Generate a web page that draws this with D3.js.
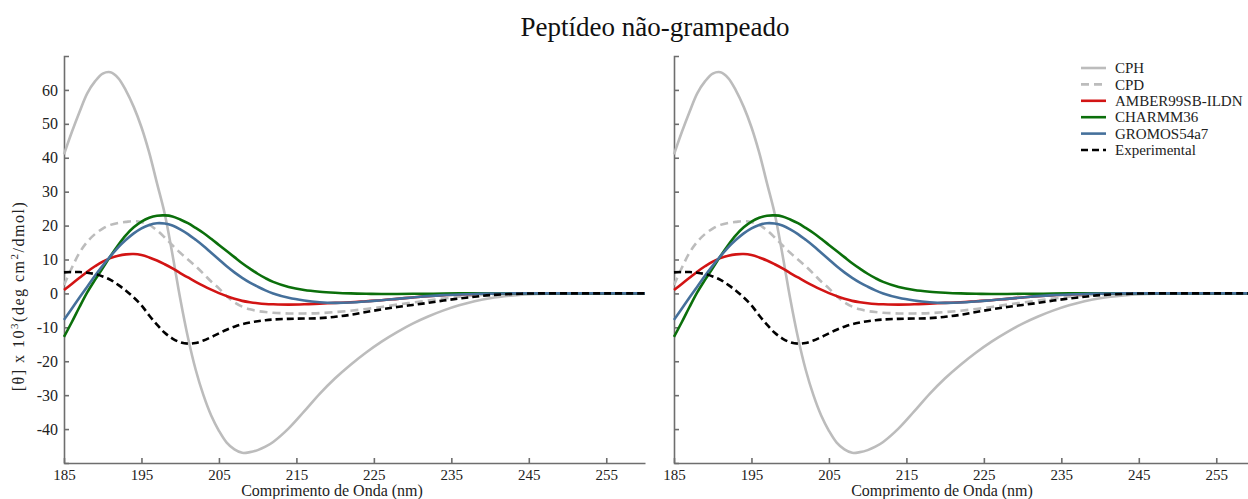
<!DOCTYPE html>
<html>
<head>
<meta charset="utf-8">
<script src="https://cdn.jsdelivr.net/npm/d3@7/dist/d3.min.js"></script>
<style>
  body { margin: 0; background: #fff; }
  svg { font-family: "Liberation Serif", "Times New Roman", serif; }
  .axis path, .axis line { stroke: #6e6e6e; stroke-width: 1.6; }
  .axis text { fill: #222; font-family: "Liberation Serif", "Times New Roman", serif; }
</style>
</head>
<body>
<div class="chart"></div>
<script>
// wavelength grid (nm)
var wavelengths = [185,186,187,188,189,190,191,192,193,194,195,196,197,198,199,200,201,202,203,204,205,206,207,208,209,210,211,212,
  214,216,218,220,222,224,226,228,230,232,234,236,238,240,243,246,250,255,260];

var cph = [41,47.5,53.5,59,62.5,64.8,65.2,63.5,59.8,55,49,41.5,32.5,23.5,11.5,-1.5,-13,-22.5,-30,-36,-40.5,-44,-46,-47,-46.8,-46.2,-45.2,-43.8,
  -39.8,-34.8,-29.6,-25,-21,-17.4,-14.2,-11.4,-8.9,-6.8,-5,-3.5,-2.3,-1.4,-0.6,-0.15,0,0,0];
var cpd = [2.5,7.5,12,15.2,17.5,19.1,20.2,20.8,21.1,21.3,21,20.2,18.6,16.5,14.2,12,10,8,5.8,3.5,1.5,-0.8,-2.6,-3.9,-4.7,-5.2,-5.5,-5.7,
  -5.9,-5.9,-5.8,-5.5,-5.1,-4.6,-4,-3.3,-2.7,-2.1,-1.5,-1,-0.6,-0.3,-0.1,0,0,0,0];
var amber = [1,2.8,4.6,6.4,8,9.4,10.4,11.1,11.5,11.6,11.3,10.6,9.7,8.6,7.4,6,4.7,3.4,2.2,1.1,0.1,-0.8,-1.6,-2.2,-2.6,-2.9,-3.1,-3.2,
  -3.3,-3.2,-3,-2.8,-2.6,-2.3,-2,-1.6,-1.2,-0.8,-0.5,-0.3,-0.15,-0.05,0,0,0,0,0];
var charmm = [-12.8,-8.5,-4,0.3,4,7.5,11,14.3,17.2,19.5,21.2,22.3,22.9,23,22.7,21.8,20.7,19.3,17.8,16.1,14.3,12.5,10.7,8.9,7.3,5.8,4.5,3.4,
  1.9,1,0.5,0.2,0,-0.1,-0.15,-0.15,-0.1,-0.1,-0.05,0,0,0,0,0,0,0,0];
var gromos = [-7.8,-4.5,-1.2,2,5.2,8.2,11,13.6,15.8,17.7,19.2,20.2,20.7,20.6,20,18.9,17.5,15.8,14,12,10,8,6.2,4.6,3.2,2,0.9,0,
  -1.3,-2.1,-2.6,-2.8,-2.7,-2.4,-2,-1.6,-1.2,-0.8,-0.5,-0.3,-0.15,-0.05,0,0,0,0,0];
var experimental = [6.2,6.3,6.3,6.1,5.7,5,4,2.5,0.8,-1.2,-3.5,-6.5,-9.2,-11.6,-13.3,-14.4,-14.8,-14.6,-13.9,-12.9,-11.8,-10.7,-9.8,-9.1,-8.6,-8.2,-7.9,-7.7,
  -7.5,-7.4,-7.3,-6.9,-6.3,-5.5,-4.7,-4,-3.4,-2.8,-2.1,-1.5,-1,-0.5,-0.15,0,0,0,0];

var seriesNames = ["CPH", "CPD", "AMBER99SB-ILDN", "CHARMM36", "GROMOS54a7", "Experimental"];
var seriesValues = [cph, cpd, amber, charmm, gromos, experimental];
var seriesColors = ["#bcbcbc", "#bcbcbc", "#d21414", "#0b6f0b", "#45709b", "#000000"];
var seriesDash = [null, "8,5", null, null, null, "7,4"];

var xTicks = [185,195,205,215,225,235,245,255];
var yTicks = [-40,-30,-20,-10,0,10,20,30,40,50,60];

var serif = "'Liberation Serif', 'Times New Roman', serif";
var width = 1248, height = 499;
var margins = { top: 56, bottom: 36 };
var panelLefts = [64, 674];
var panelWidth = 581;
var chartHeight = height - margins.top - margins.bottom;

var svg = d3.select("div.chart").append("svg")
  .attr("width", width)
  .attr("height", height);

svg.append("text")
  .attr("x", 655).attr("y", 36)
  .attr("text-anchor", "middle")
  .attr("font-size", 27)
  .attr("fill", "#111")
  .text("Peptídeo não-grampeado");

var xScale = d3.scaleLinear().domain([185, 260]).range([0, panelWidth]);
var yScale = d3.scaleLinear().domain([-50, 70]).range([chartHeight, 0]);

var line = d3.line()
  .x(d => xScale(d[0]))
  .y(d => yScale(d[1]))
  .curve(d3.curveCatmullRom.alpha(0.5));

panelLefts.forEach(function(left, p) {
  var g = svg.append("g").attr("transform", `translate(${left},${margins.top})`);

  var yAxis = d3.axisLeft(yScale)
    .tickValues(yTicks)
    .tickSizeInner(-5)
    .tickSizeOuter(-5)
    .tickPadding(6)
    .tickFormat(p == 0 ? (d => String(d)) : "");

  var xAxis = d3.axisBottom(xScale)
    .tickValues(xTicks)
    .tickSizeInner(-5)
    .tickSizeOuter(0)
    .tickPadding(6)
    .tickFormat(d => String(d));

  g.append("g").attr("class", "y axis").call(yAxis)
    .attr("font-family", serif).attr("font-size", 16);
  g.append("g").attr("class", "x axis")
    .attr("transform", `translate(0,${chartHeight})`)
    .call(xAxis)
    .attr("font-family", serif).attr("font-size", 15);

  // curves
  seriesValues.forEach(function(vals, i) {
    g.append("path")
      .datum(wavelengths.map((w, j) => [w, vals[j]]))
      .attr("d", line)
      .attr("fill", "none")
      .attr("stroke", seriesColors[i])
      .attr("stroke-width", 2.6)
      .attr("stroke-dasharray", seriesDash[i]);
  });

  g.append("text")
    .attr("x", 268).attr("y", chartHeight + 33)
    .attr("text-anchor", "middle")
    .attr("font-size", 16)
    .attr("fill", "#222")
    .text("Comprimento de Onda (nm)");
});

// y label
svg.append("text")
  .attr("transform", "translate(24,296) rotate(-90)")
  .attr("text-anchor", "middle")
  .attr("font-size", 16)
  .attr("letter-spacing", 1.5)
  .attr("fill", "#222")
  .html("[θ] x 10<tspan dy='-6' font-size='11'>3</tspan><tspan dy='6'>(deg cm</tspan><tspan dy='-6' font-size='11'>2</tspan><tspan dy='6'>/dmol)</tspan>");

// legend
var legend = svg.append("g").attr("transform", "translate(1081,68)");
seriesNames.forEach(function(name, i) {
  var row = legend.append("g").attr("transform", `translate(0,${i * 16.4})`);
  row.append("line")
    .attr("x1", 0).attr("x2", 25)
    .attr("stroke", seriesColors[i])
    .attr("stroke-width", 2.6)
    .attr("stroke-dasharray", seriesDash[i]);
  row.append("text")
    .attr("x", 34).attr("dy", "0.35em")
    .attr("font-size", 15)
    .attr("fill", "#222")
    .text(name);
});
</script>
</body>
</html>
